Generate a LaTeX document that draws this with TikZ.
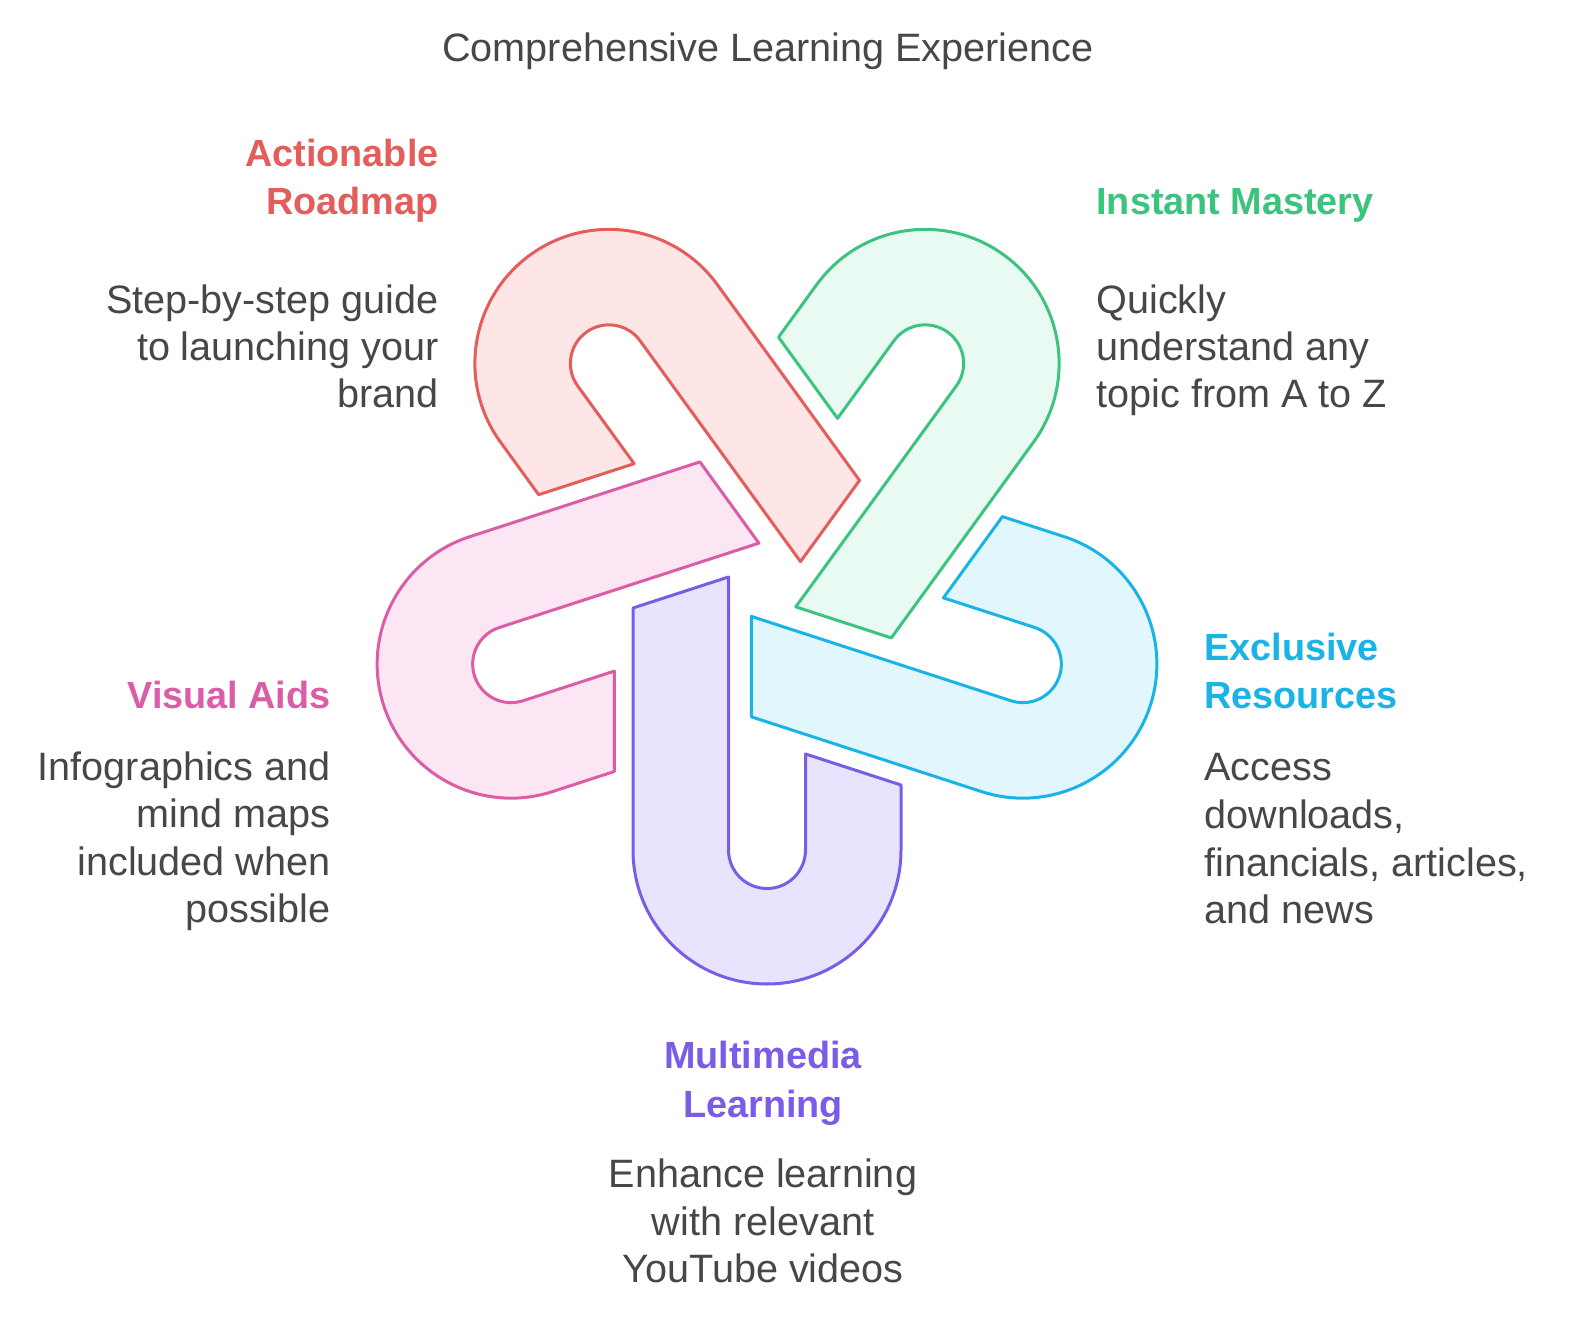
\documentclass[tikz,border=0pt]{standalone}
\usepackage{fontspec}
\setmainfont{Liberation Sans}
\definecolor{txt}{HTML}{474747}
\definecolor{cred}{HTML}{E35D5B}
\definecolor{fred}{HTML}{FDE6E5}
\definecolor{cgreen}{HTML}{3CC47E}
\definecolor{fgreen}{HTML}{E8FAF1}
\definecolor{ccyan}{HTML}{1AB3E6}
\definecolor{fcyan}{HTML}{E2F7FD}
\definecolor{cpurple}{HTML}{7B5CE6}
\definecolor{fpurple}{HTML}{E9E4FD}
\definecolor{cpink}{HTML}{DB5CA7}
\definecolor{fpink}{HTML}{FCE6F3}
\begin{document}
\begin{tikzpicture}[x=0.5pt,y=0.5pt,
  hook/.pic={\path[pic actions] (-134,-27) -- (-134,-269) arc[start angle=180, end angle=360, radius=67pt]
      -- (134,-204) -- (38.5,-173) -- (38.5,-269) arc[start angle=0, end angle=-180, radius=19.25pt]
      -- (-38.5,4) -- cycle;},
  hookstyle/.style={line width=1.5pt, line join=round},
  body/.style={inner sep=0pt, text=txt, font=\fontsize{19.8pt}{23.5pt}\selectfont},
  head/.style={inner sep=0pt, font=\fontsize{18.9pt}{23.5pt}\selectfont\bfseries}]
\useasboundingbox[fill=white] (0,0) rectangle (1584,-1320);
% shapes
\pic[hookstyle, draw=cpurple, fill=fpurple] at (767,-581) {hook};
\pic[hookstyle, draw=ccyan, fill=fcyan, rotate=72] at (767,-581) {hook};
\pic[hookstyle, draw=cgreen, fill=fgreen, rotate=144] at (767,-581) {hook};
\pic[hookstyle, draw=cred, fill=fred, rotate=216] at (767,-581) {hook};
\pic[hookstyle, draw=cpink, fill=fpink, rotate=288] at (767,-581) {hook};
% title
\node[body, anchor=base] (title) at (768,-62) {Comprehensive Learning Experience};
% red
\node[head, text=cred, anchor=base east] (rh1) at (439,-167) {Actionable};
\node[head, text=cred, anchor=base east] (rh2) at (439,-215) {Roadmap};
\node[body, anchor=base east] (rb1) at (439,-314) {Step-by-step guide};
\node[body, anchor=base east] (rb2) at (439,-361) {to launching your};
\node[body, anchor=base east] (rb3) at (439,-408) {brand};
% green
\node[head, text=cgreen, anchor=base west] (gh1) at (1096,-215) {Instant Mastery};
\node[body, anchor=base west] (gb1) at (1096,-314) {Quickly};
\node[body, anchor=base west] (gb2) at (1096,-361) {understand any};
\node[body, anchor=base west] (gb3) at (1096,-408) {topic from A to Z};
% cyan
\node[head, text=ccyan, anchor=base west] (ch1) at (1204,-660) {Exclusive};
\node[head, text=ccyan, anchor=base west] (ch2) at (1204,-708) {Resources};
\node[body, anchor=base west] (cb1) at (1204,-780) {Access};
\node[body, anchor=base west] (cb2) at (1204,-828) {downloads,};
\node[body, anchor=base west] (cb3) at (1204,-876) {financials, articles,};
\node[body, anchor=base west] (cb4) at (1204,-923) {and news};
% pink
\node[head, text=cpink, anchor=base east] (ph1) at (331,-708) {Visual Aids};
\node[body, anchor=base east] (pb1) at (331,-780) {Infographics and};
\node[body, anchor=base east] (pb2) at (331,-827) {mind maps};
\node[body, anchor=base east] (pb3) at (331,-875) {included when};
\node[body, anchor=base east] (pb4) at (331,-922) {possible};
% purple
\node[head, text=cpurple, anchor=base] (uh1) at (763,-1068) {Multimedia};
\node[head, text=cpurple, anchor=base] (uh2) at (763,-1117) {Learning};
\node[body, anchor=base] (ub1) at (763,-1187) {Enhance learning};
\node[body, anchor=base] (ub2) at (763,-1235) {with relevant};
\node[body, anchor=base] (ub3) at (763,-1282) {YouTube videos};
\end{tikzpicture}
\end{document}
